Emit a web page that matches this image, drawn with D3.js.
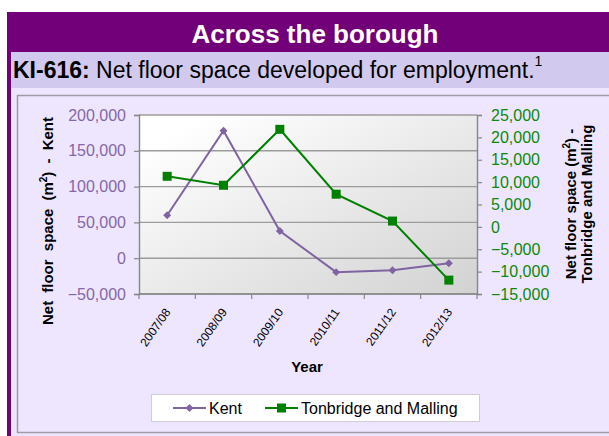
<!DOCTYPE html>
<html>
<head>
<meta charset="utf-8">
<script src="https://cdn.jsdelivr.net/npm/d3@7"></script>
<style>
  body{margin:0;padding:0;background:#fff;font-family:"Liberation Sans",Arial,sans-serif;}
  svg{display:block;}
</style>
</head>
<body>
<div id="chart"></div>
<script>
// data
var years = ["2007/08","2008/09","2009/10","2010/11","2011/12","2012/13"];
var kent = [60000, 178000, 38000, -19500, -16800, -7000];
var tonbridge = [11300, 9300, 21800, 7300, 1300, -11900];
var kentTicks = [-50000, 0, 50000, 100000, 150000, 200000];
var tmTicks = [-15000, -10000, -5000, 0, 5000, 10000, 15000, 20000, 25000];

var W = 609, H = 436;
var svg = d3.select("#chart").append("svg").attr("width",W).attr("height",H);
var fmt = d3.format(",");

//panel background
svg.append("rect").attr("x",7).attr("y",12).attr("width",W-7).attr("height",H-12).attr("fill","#720078");
svg.append("rect").attr("x",11).attr("y",52).attr("width",W-11).attr("height",36).attr("fill","#d2c9ee");
svg.append("rect").attr("x",11).attr("y",88).attr("width",W-11).attr("height",H-88).attr("fill","#eee6fe");
svg.append("rect").attr("x",17.5).attr("y",95.5).attr("width",W).attr("height",337)
	.attr("fill","#eee6fe").attr("stroke","#a09aa8").attr("stroke-width",1.5);

svg.append("text").attr("x",315).attr("y",43).attr("text-anchor","middle")
	.attr("fill","#fff").style("font-weight","bold").style("font-size","26px").text("Across the borough");

var sub = svg.append("text").attr("x",13).attr("y",78).attr("fill","#000").style("font-size","23px");
sub.append("tspan").style("font-weight","bold").text("KI-616:");
sub.append("tspan").text(" Net floor space developed for employment.");
sub.append("tspan").attr("dy",-12).style("font-size","14px").text("1");

//plot area
var pLeft = 139, pRight = 477, pTop = 115, pBottom = 294;
var x = d3.scaleBand().domain(years).range([pLeft,pRight]);
var yK = d3.scaleLinear().domain([-50000,200000]).range([pBottom,pTop]);
var yT = d3.scaleLinear().domain([-15000,25000]).range([pBottom,pTop]);

var defs = svg.append("defs");
var grad = defs.append("linearGradient").attr("id","bg").attr("x1",0).attr("y1",0).attr("x2",1).attr("y2",1);
grad.append("stop").attr("offset","0.1").attr("stop-color","#ffffff");
grad.append("stop").attr("offset","1").attr("stop-color","#d2d2d2");

svg.append("rect").attr("x",pLeft).attr("y",pTop).attr("width",pRight-pLeft).attr("height",pBottom-pTop).attr("fill","url(#bg)");

svg.append("g").selectAll("line").data(kentTicks).enter().append("line")
	.attr("x1",pLeft).attr("x2",pRight)
	.attr("y1",function(d){return yK(d)}).attr("y2",function(d){return yK(d)})
	.attr("stroke","#9c9c9c").attr("stroke-width",1.4);

//left axis
var axL = svg.append("g").attr("transform","translate("+pLeft+",0)")
	.call(d3.axisLeft(yK).tickValues(kentTicks).tickFormat(fmt).tickSize(5).tickPadding(8));
axL.select(".domain").attr("stroke","#878787").attr("stroke-width",1.4);
axL.selectAll(".tick line").attr("stroke","#878787").attr("stroke-width",1.2);
axL.selectAll("text").attr("fill","#8466a8").style("font-size","16px").style("font-family","Liberation Sans, Arial, sans-serif");

//right axis
var axR = svg.append("g").attr("transform","translate("+pRight+",0)")
	.call(d3.axisRight(yT).tickValues(tmTicks).tickFormat(fmt).tickSize(5).tickPadding(9));
axR.select(".domain").attr("stroke","#878787").attr("stroke-width",1.4);
axR.selectAll(".tick line").attr("stroke","#878787").attr("stroke-width",1.2);
axR.selectAll("text").attr("fill","#0a8a0a").style("font-size","16px").style("font-family","Liberation Sans, Arial, sans-serif");

//bottom axis
var axB = svg.append("g").attr("transform","translate(0,"+pBottom+")");
axB.append("line").attr("x1",pLeft).attr("x2",pRight).attr("stroke","#878787").attr("stroke-width",1.4);
var edges = years.map(function(d){return x(d)}).concat([pRight]);
axB.selectAll("line.tk").data(edges).enter().append("line").attr("class","tk")
	.attr("x1",function(d){return d}).attr("x2",function(d){return d})
	.attr("y1",0).attr("y2",5).attr("stroke","#878787").attr("stroke-width",1.2);
axB.selectAll("text").data(years).enter().append("text")
	.attr("transform",function(d){return "translate("+(x(d)+x.bandwidth()/2+4)+",18) rotate(-55)"})
	.attr("text-anchor","end").style("font-size","12px").attr("fill","#000").text(function(d){return d});

svg.append("text").attr("x",307).attr("y",372).attr("text-anchor","middle")
	.style("font-weight","bold").style("font-size","15px").text("Year");

//axis titles
var tl = svg.append("text").attr("transform","translate(53,221) rotate(-90)").attr("text-anchor","middle")
	.style("font-weight","bold").style("font-size","15px").style("word-spacing","4px");
tl.append("tspan").text("Net floor space (m");
tl.append("tspan").attr("dy",-6).style("font-size","10px").text("2");
tl.append("tspan").attr("dy",6).text(") - Kent");

var tr = svg.append("text").attr("transform","translate(576,204) rotate(-90)").attr("text-anchor","middle")
	.style("font-weight","bold").style("font-size","15px");
var tr1 = tr.append("tspan").attr("x",0).attr("y",0);
tr1.append("tspan").text("Net floor space (m");
tr1.append("tspan").attr("dy",-6).style("font-size","10px").text("2");
tr1.append("tspan").attr("dy",6).text(") -");
tr.append("tspan").attr("x",0).attr("y",16).text("Tonbridge and Malling");

//series
var cx = function(d,i){return x(years[i])+x.bandwidth()/2};
var lineK = d3.line().x(function(d,i){return cx(d,i)}).y(function(d){return yK(d)});
var lineT = d3.line().x(function(d,i){return cx(d,i)}).y(function(d){return yT(d)});

svg.append("path").attr("d",lineK(kent)).attr("fill","none").attr("stroke","#8064a2").attr("stroke-width",2);
svg.append("g").selectAll("path").data(kent).enter().append("path")
	.attr("d",d3.symbol().type(d3.symbolDiamond2).size(40))
	.attr("transform",function(d,i){return "translate("+cx(d,i)+","+yK(d)+")"})
	.attr("fill","#8064a2");

svg.append("path").attr("d",lineT(tonbridge)).attr("fill","none").attr("stroke","#008000").attr("stroke-width",2);
svg.append("g").selectAll("rect").data(tonbridge).enter().append("rect")
	.attr("x",function(d,i){return cx(d,i)-4.5}).attr("y",function(d){return yT(d)-4.5})
	.attr("width",9).attr("height",9).attr("fill","#008000");

//legend
var lg = svg.append("g");
lg.append("rect").attr("x",151.5).attr("y",394.5).attr("width",328).attr("height",27)
	.attr("fill","#fff").attr("stroke","#cfcfcf").attr("stroke-width",1);
var legItems = [{name:"Kent", col:"#8064a2", x0:173}, {name:"Tonbridge and Malling", col:"#008000", x0:265}];
legItems.forEach(function(d,i){
	lg.append("line").attr("x1",d.x0).attr("x2",d.x0+33).attr("y1",408).attr("y2",408).attr("stroke",d.col).attr("stroke-width",2);
	if(i===0){
		lg.append("path").attr("d",d3.symbol().type(d3.symbolDiamond2).size(40)).attr("transform","translate("+(d.x0+16.5)+",408)").attr("fill",d.col);
	}else{
		lg.append("rect").attr("x",d.x0+12).attr("y",403.5).attr("width",9).attr("height",9).attr("fill",d.col);
	}
	lg.append("text").attr("x",d.x0+36).attr("y",413.5).style("font-size","16px").attr("fill","#000").text(d.name);
});
</script>
</body>
</html>
